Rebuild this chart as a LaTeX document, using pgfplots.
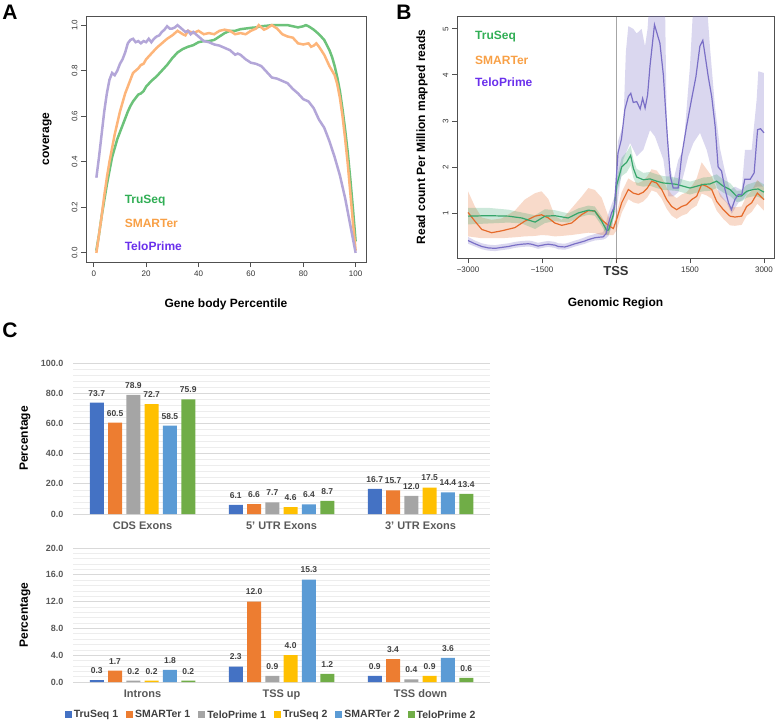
\documentclass[border=0pt]{standalone}
\usepackage{fontspec}
\setmainfont{Liberation Sans}
\usepackage{pgfplots}
\usepackage{pgfplotstable}
\pgfplotsset{compat=1.18, /pgf/number format/assume math mode=true}
\usepgfplotslibrary{fillbetween}

\newcommand\fs[1]{\fontsize{#1}{#1}\selectfont}

% panel A / B colours
\definecolor{aGreen}{HTML}{6CC27A}
\definecolor{aOrange}{HTML}{FDB57A}
\definecolor{aPurple}{HTML}{B3A6D8}
\definecolor{legGreen}{HTML}{31AE55}
\definecolor{legOrange}{HTML}{F8A046}
\definecolor{legPurple}{HTML}{6A30EC}
\definecolor{bGreen}{HTML}{35A56A}
\definecolor{bOrange}{HTML}{E56A2A}
\definecolor{bPurple}{HTML}{7A6FC6}
\definecolor{rline}{HTML}{505050}
\definecolor{rtext}{HTML}{333333}
% panel C colours
\definecolor{c1}{HTML}{4472C4}
\definecolor{c2}{HTML}{ED7D31}
\definecolor{c3}{HTML}{A5A5A5}
\definecolor{c4}{HTML}{FFC000}
\definecolor{c5}{HTML}{5B9BD5}
\definecolor{c6}{HTML}{70AD47}
\definecolor{cgrid}{HTML}{D9D9D9}
\definecolor{cminor}{HTML}{EDEDED}
\definecolor{ctick}{HTML}{595959}
\definecolor{clab}{HTML}{404040}

% gene body coverage (panel A)
\pgfplotstableread{
p cov
1 0.01
2 0.08
3 0.16
4 0.23
5 0.30
6 0.36
7 0.42
8 0.46
9 0.50
10 0.53
11 0.56
12 0.59
13 0.62
14 0.645
15 0.665
16 0.68
17 0.695
18 0.70
19 0.71
20 0.73
22 0.755
24 0.775
26 0.80
28 0.825
30 0.855
32 0.88
34 0.895
36 0.905
38 0.912
40 0.925
42 0.93
44 0.93
46 0.935
48 0.95
50 0.965
52 0.975
54 0.975
56 0.982
58 0.985
60 0.988
62 0.99
64 0.995
66 0.997
68 1.0
70 1.0
72 1.0
74 1.0
76 0.995
78 0.99
80 0.995
81 1.0
82 0.995
84 0.98
86 0.96
88 0.935
90 0.89
91 0.86
92 0.82
93 0.77
94 0.71
95 0.63
96 0.54
97 0.44
98 0.32
99 0.19
100 0.05
}\covTru

\pgfplotstableread{
p cov
1 0.0
2 0.08
3 0.16
4 0.25
5 0.33
6 0.40
7 0.46
8 0.52
9 0.57
10 0.62
11 0.66
12 0.70
13 0.73
14 0.76
15 0.79
16 0.80
17 0.81
18 0.825
19 0.83
20 0.85
22 0.875
24 0.90
26 0.92
28 0.94
30 0.955
32 0.975
34 0.96
35 0.955
36 0.975
38 0.965
40 0.975
42 0.96
44 0.965
46 0.96
48 0.975
50 0.98
52 0.975
54 0.96
56 0.965
58 0.96
60 0.975
62 0.985
63 1.0
64 0.99
65 0.98
66 0.985
68 1.0
70 0.985
72 0.96
74 0.95
76 0.945
78 0.92
80 0.915
82 0.92
83 0.905
84 0.91
85 0.92
86 0.905
88 0.87
90 0.82
92 0.78
93 0.74
94 0.68
95 0.60
96 0.50
97 0.39
98 0.26
99 0.13
100 0.01
}\covSma

\pgfplotstableread{
p cov
1 0.33
2 0.42
3 0.52
4 0.62
5 0.70
6 0.76
7 0.79
8 0.78
9 0.80
10 0.83
11 0.85
12 0.88
13 0.92
14 0.935
15 0.94
16 0.925
17 0.93
18 0.92
19 0.93
20 0.925
21 0.94
22 0.925
23 0.94
24 0.95
25 0.955
26 0.97
27 0.98
28 0.995
29 0.985
30 0.985
31 0.99
32 1.0
33 0.99
34 0.98
35 0.97
36 0.975
37 0.96
38 0.97
39 0.96
40 0.95
42 0.93
44 0.925
46 0.915
48 0.91
50 0.90
52 0.89
54 0.87
55 0.875
56 0.87
58 0.85
60 0.835
62 0.83
64 0.82
66 0.795
68 0.77
70 0.765
72 0.755
74 0.745
76 0.72
78 0.70
80 0.675
82 0.665
84 0.635
86 0.585
88 0.55
90 0.49
92 0.42
94 0.34
96 0.24
98 0.12
99 0.06
100 0.0
}\covTelo

% TSS profiles (panel B)
\pgfplotstableread{
x y
-3000 0.40
-2860 0.33
-2720 0.27
-2590 0.24
-2450 0.23
-2320 0.25
-2180 0.27
-2050 0.30
-1910 0.32
-1780 0.33
-1710 0.32
-1580 0.28
-1440 0.31
-1370 0.32
-1240 0.30
-1170 0.27
-1040 0.26
-970 0.28
-830 0.33
-760 0.35
-630 0.39
-560 0.42
-430 0.46
-360 0.47
-260 0.48
-200 0.55
-150 0.78
-90 1.00
-30 1.14
40 2.30
110 2.60
180 3.25
250 3.53
300 3.60
350 3.40
420 3.42
490 3.26
540 3.49
590 3.28
640 3.56
690 4.20
780 5.09
890 4.69
960 4.00
1040 2.66
1100 1.80
1160 1.54
1260 1.54
1330 2.23
1430 2.88
1530 3.46
1620 3.96
1700 4.62
1760 4.75
1800 4.47
1870 3.96
1940 3.53
2010 2.88
2070 2.00
2140 1.91
2210 1.51
2280 1.22
2340 1.07
2410 1.29
2480 1.40
2550 1.40
2610 1.73
2720 1.73
2800 1.87
2870 2.81
2930 2.83
3000 2.74
}\teloB

\pgfplotstableread{
x y
-3000 0.48
-2860 0.40
-2720 0.34
-2590 0.31
-2450 0.30
-2320 0.32
-2180 0.34
-2050 0.37
-1910 0.39
-1780 0.40
-1710 0.39
-1580 0.35
-1440 0.38
-1370 0.39
-1240 0.37
-1170 0.34
-1040 0.33
-970 0.35
-830 0.40
-760 0.42
-630 0.47
-560 0.50
-430 0.54
-360 0.56
-260 0.58
-200 0.80
-150 1.00
-90 1.18
-30 1.35
40 2.55
110 2.80
149 2.90
200 4.50
250 5.06
351 5.00
419 4.90
520 5.00
588 4.62
640 5.00
676 5.60
993 5.60
1027 3.03
1095 2.00
1162 1.70
1264 2.16
1365 2.37
1500 4.20
1570 5.60
1838 5.60
1905 4.60
2007 3.30
2108 2.40
2209 1.90
2311 1.50
2412 1.57
2547 1.50
2615 2.37
2750 2.37
2851 3.46
2885 4.08
3000 4.04
}\teloHi

\pgfplotstableread{
x y
-3000 0.33
-2860 0.27
-2720 0.21
-2590 0.18
-2450 0.17
-2320 0.19
-2180 0.21
-2050 0.24
-1910 0.26
-1780 0.27
-1710 0.26
-1580 0.22
-1440 0.25
-1370 0.26
-1240 0.24
-1170 0.21
-1040 0.20
-970 0.22
-830 0.27
-760 0.29
-630 0.33
-560 0.36
-430 0.40
-360 0.41
-260 0.42
-200 0.45
-150 0.50
-90 0.70
-30 0.95
13 1.07
149 2.16
284 2.52
419 2.23
554 2.37
689 2.80
790 2.66
960 2.16
1061 1.36
1162 1.36
1264 1.45
1365 1.80
1466 2.23
1568 2.52
1703 2.74
1838 2.37
1973 1.80
2108 1.36
2243 1.22
2345 0.98
2480 1.22
2581 1.30
2716 1.50
2851 1.57
3000 1.57
}\teloLo

\pgfplotstableread{
x y hi lo
-3000 0.93 1.11 0.75
-2590 0.94 1.11 0.77
-2180 0.93 1.07 0.79
-1910 0.89 1.01 0.77
-1640 0.80 0.95 0.65
-1440 0.93 1.08 0.78
-1240 0.94 1.06 0.82
-970 0.89 0.99 0.79
-760 1.00 1.10 0.90
-560 1.06 1.16 0.96
-430 1.04 1.14 0.94
-290 0.82 0.92 0.72
-190 0.62 0.72 0.52
-150 0.63 0.73 0.53
-54 0.96 1.08 0.84
13 1.60 1.75 1.45
115 2.00 2.20 1.80
216 2.10 2.32 1.88
297 2.25 2.47 2.03
351 1.97 2.17 1.77
419 1.78 1.96 1.60
554 1.72 1.87 1.57
689 1.74 1.89 1.59
824 1.69 1.84 1.54
960 1.65 1.80 1.50
1095 1.64 1.79 1.49
1230 1.62 1.76 1.48
1365 1.58 1.72 1.44
1500 1.54 1.68 1.40
1635 1.58 1.72 1.44
1770 1.62 1.77 1.47
1905 1.63 1.78 1.48
2041 1.69 1.84 1.54
2176 1.58 1.72 1.44
2311 1.51 1.65 1.37
2446 1.36 1.48 1.24
2547 1.37 1.49 1.25
2649 1.47 1.61 1.33
2784 1.51 1.66 1.36
2885 1.52 1.69 1.35
3000 1.45 1.62 1.28
}\truB

\pgfplotstableread{
x y hi lo
-3000 1.01 1.47 0.49
-2860 0.82 1.14 0.47
-2720 0.64 0.90 0.45
-2520 0.57 0.85 0.45
-2320 0.61 0.88 0.45
-2050 0.68 1.05 0.47
-1850 0.82 1.29 0.49
-1640 0.93 1.43 0.50
-1510 0.96 1.47 0.52
-1370 0.89 1.30 0.51
-1240 0.78 0.93 0.49
-1100 0.73 0.85 0.50
-900 0.78 1.10 0.52
-700 0.96 1.35 0.55
-560 1.05 1.54 0.57
-430 1.04 1.50 0.56
-290 0.85 1.33 0.52
-156 0.73 0.93 0.52
-54 0.66 0.75 0.52
13 0.86 1.00 0.62
115 1.22 1.45 1.00
250 1.51 1.75 1.30
351 1.43 1.68 1.23
453 1.40 1.65 1.20
554 1.45 1.70 1.25
635 1.54 1.80 1.34
723 1.69 1.95 1.49
824 1.65 1.92 1.45
926 1.51 1.78 1.31
1027 1.29 1.55 1.09
1128 1.14 1.40 0.94
1230 1.07 1.32 0.87
1331 1.14 1.40 0.94
1433 1.18 1.45 0.98
1534 1.29 1.58 1.09
1635 1.36 1.75 1.16
1736 1.62 2.10 1.42
1838 1.58 1.95 1.38
1939 1.51 1.80 1.31
2041 1.25 1.52 1.05
2176 1.07 1.32 0.87
2311 0.93 1.15 0.73
2412 0.91 1.12 0.72
2547 0.93 1.14 0.74
2649 1.14 1.38 0.94
2750 1.22 1.48 1.02
2865 1.43 1.72 1.20
3000 1.29 1.55 1.05
}\smaB

\pgfplotsset{
  rstyle/.style={
    scale only axis, anchor=south west,
    tick align=outside, tick pos=left, major tick length=5pt,
    axis line style={rline, line width=0.8pt},
    tick style={rline, line width=0.8pt},
    ticklabel style={font=\fs{8}, text=rtext},
    yticklabel style={rotate=90, anchor=south},
    label style={font=\fs{12}\bfseries},
  },
  cbar/.style={
    scale only axis, anchor=south west, width=417pt,
    xmin=-0.5, xmax=2.5, ybar=4.3pt, bar width=14pt,
    xtick={0,1,2},
    axis line style={draw=none}, major tick length=0pt, minor tick length=0pt,
    ymajorgrids, yminorgrids, minor y tick num=4,
    major grid style={cgrid, line width=0.8pt},
    minor grid style={cminor, line width=0.6pt},
    yticklabel style={font=\fs{9}\bfseries, text=ctick, xshift=-6pt},
    xticklabel style={font=\fs{11}\bfseries, text=ctick, yshift=-4pt},
    ylabel={Percentage},
    ylabel style={font=\fs{12}\bfseries, at={(axis description cs:-0.115,0.5)}, anchor=center},
    nodes near coords={\pgfmathprintnumber[fixed,zerofill,precision=1]{\pgfplotspointmeta}},
    every node near coord/.append style={font=\fs{8.5}\bfseries, text=clab, yshift=3pt},
  },
}

\begin{document}
\begin{tikzpicture}
\node[font=\fs{21}\bfseries] at (10pt,-12.5pt) {A};
\node[font=\fs{21}\bfseries] at (404pt,-12.5pt) {B};
\node[font=\fs{21}\bfseries] at (10pt,-330pt) {C};

% ---- A: gene body coverage
\begin{axis}[rstyle, at={(86pt,-262pt)}, width=280pt, height=246pt,
  xmin=-2.96, xmax=103.96, ymin=-0.04, ymax=1.04,
  xtick={0,20,40,60,80,100}, xticklabels={0,20,40,60,80,100},
  ytick={0,0.2,0.4,0.6,0.8,1}, yticklabels={0.0,0.2,0.4,0.6,0.8,1.0},
  xlabel={Gene body Percentile}, ylabel={coverage},
  xlabel style={at={(axis description cs:0.5,-0.171)}, anchor=center},
  ylabel style={at={(axis description cs:-0.139,0.5)}, anchor=center}]
  \addplot[aGreen, line width=2.5pt] table[x=p, y=cov] {\covTru};
  \addplot[aOrange, line width=2.5pt] table[x=p, y=cov] {\covSma};
  \addplot[aPurple, line width=2.5pt] table[x=p, y=cov] {\covTelo};
  \node[anchor=west, font=\fs{12}\bfseries, text=legGreen] at (axis cs:10.5,0.23) {TruSeq};
  \node[anchor=west, font=\fs{12}\bfseries, text=legOrange] at (axis cs:10.5,0.13) {SMARTer};
  \node[anchor=west, font=\fs{12}\bfseries, text=legPurple] at (axis cs:10.5,0.028) {TeloPrime};
\end{axis}

% ---- B: read density around TSS
\begin{axis}[rstyle, at={(457pt,-258pt)}, width=317pt, height=242pt,
  xmin=-3223, xmax=3203, ymin=0.02, ymax=5.28,
  xtick={-3000,-1500,0,1500,3000},
  xticklabels={−3000,−1500,{\raisebox{-6pt}{\fs{13}\bfseries TSS}},1500,3000},
  ytick={1,2,3,4,5}, yticklabels={1,2,3,4,5},
  extra x ticks={0}, extra x tick labels={},
  extra x tick style={grid=major, major grid style={black!35, line width=0.9pt}},
  xlabel={Genomic Region}, ylabel={Read count Per Million mapped reads},
  xlabel style={at={(axis description cs:0.5,-0.186)}, anchor=center},
  ylabel style={at={(axis description cs:-0.110,0.5)}, anchor=center}]
  \addplot[name path=tHi, draw=none] table[x=x, y=y] {\teloHi};
  \addplot[name path=tLo, draw=none] table[x=x, y=y] {\teloLo};
  \addplot[fill=bPurple, fill opacity=0.28, draw=none] fill between[of=tHi and tLo];
  \addplot[name path=sHi, draw=none] table[x=x, y=hi] {\smaB};
  \addplot[name path=sLo, draw=none] table[x=x, y=lo] {\smaB};
  \addplot[fill=bOrange, fill opacity=0.25, draw=none] fill between[of=sHi and sLo];
  \addplot[name path=gHi, draw=none] table[x=x, y=hi] {\truB};
  \addplot[name path=gLo, draw=none] table[x=x, y=lo] {\truB};
  \addplot[fill=bGreen, fill opacity=0.25, draw=none] fill between[of=gHi and gLo];
  \addplot[bOrange, line width=1.2pt] table[x=x, y=y] {\smaB};
  \addplot[bGreen, line width=1.2pt] table[x=x, y=y] {\truB};
  \addplot[bPurple, line width=1.2pt] table[x=x, y=y] {\teloB};
  \node[anchor=west, font=\fs{12}\bfseries, text=legGreen] at (axis cs:-2925,4.84) {TruSeq};
  \node[anchor=west, font=\fs{12}\bfseries, text=legOrange] at (axis cs:-2925,4.31) {SMARTer};
  \node[anchor=west, font=\fs{12}\bfseries, text=legPurple] at (axis cs:-2925,3.84) {TeloPrime};
\end{axis}

% ---- C top: exonic features
\begin{axis}[cbar, at={(73pt,-514pt)}, height=151pt,
  ymin=0, ymax=100, ytick={0,20,40,60,80,100},
  yticklabels={0.0,20.0,40.0,60.0,80.0,100.0},
  xticklabels={CDS Exons,5' UTR Exons,3' UTR Exons}]
  \addplot[fill=c1, draw=none] coordinates {(0,73.7) (1,6.1) (2,16.7)};
  \addplot[fill=c2, draw=none] coordinates {(0,60.5) (1,6.6) (2,15.7)};
  \addplot[fill=c3, draw=none] coordinates {(0,78.9) (1,7.7) (2,12.0)};
  \addplot[fill=c4, draw=none] coordinates {(0,72.7) (1,4.6) (2,17.5)};
  \addplot[fill=c5, draw=none] coordinates {(0,58.5) (1,6.4) (2,14.4)};
  \addplot[fill=c6, draw=none] coordinates {(0,75.9) (1,8.7) (2,13.4)};
\end{axis}

% ---- C bottom: introns and flanks
\begin{axis}[cbar, at={(73pt,-682pt)}, height=134pt,
  ymin=0, ymax=20, ytick={0,4,8,12,16,20},
  yticklabels={0.0,4.0,8.0,12.0,16.0,20.0},
  xticklabels={Introns,TSS up,TSS down},
  legend style={at={(0.475,-0.246)}, anchor=center, draw=none, fill=none,
    legend columns=6, font=\fs{10.5}\bfseries, text=clab,
    /tikz/every even column/.append style={column sep=6pt}},
  legend image code/.code={\fill[#1] (0pt,-3.5pt) rectangle (7pt,3.5pt);}]
  \addplot[fill=c1, draw=none] coordinates {(0,0.3) (1,2.3) (2,0.9)};
  \addplot[fill=c2, draw=none] coordinates {(0,1.7) (1,12.0) (2,3.4)};
  \addplot[fill=c3, draw=none] coordinates {(0,0.2) (1,0.9) (2,0.4)};
  \addplot[fill=c4, draw=none] coordinates {(0,0.2) (1,4.0) (2,0.9)};
  \addplot[fill=c5, draw=none] coordinates {(0,1.8) (1,15.3) (2,3.6)};
  \addplot[fill=c6, draw=none] coordinates {(0,0.2) (1,1.2) (2,0.6)};
  \legend{TruSeq 1,SMARTer 1,TeloPrime 1,TruSeq 2,SMARTer 2,TeloPrime 2}
\end{axis}
\pgfresetboundingbox
\path[use as bounding box] (0pt,0pt) rectangle (777pt,-721pt);
\end{tikzpicture}
\end{document}
